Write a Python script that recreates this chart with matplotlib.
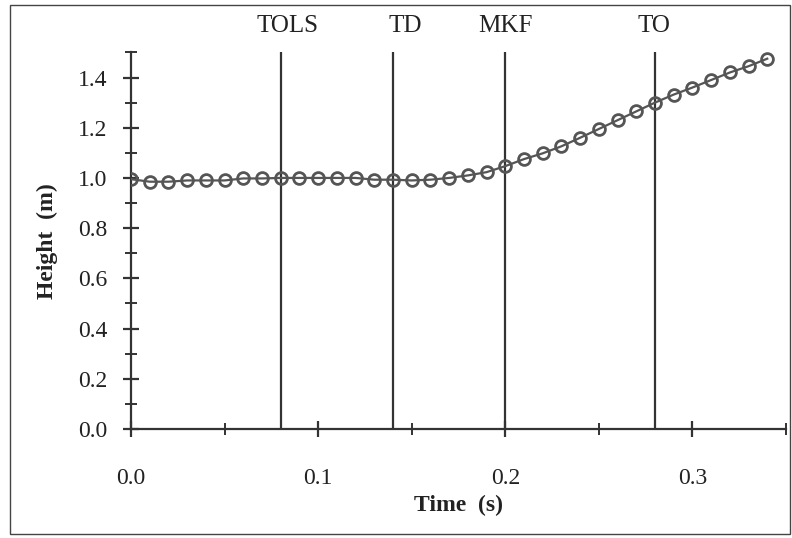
import numpy as np
import matplotlib.pyplot as plt
from matplotlib.patches import Rectangle
from matplotlib.ticker import MultipleLocator

plt.rcParams['font.family'] = ['Liberation Serif', 'DejaVu Serif']

time = [0.00, 0.01, 0.02, 0.03, 0.04, 0.05, 0.06, 0.07, 0.08, 0.09,
        0.10, 0.11, 0.12, 0.13, 0.14, 0.15, 0.16, 0.17, 0.18, 0.19,
        0.20, 0.21, 0.22, 0.23, 0.24, 0.25, 0.26, 0.27, 0.28, 0.29,
        0.30, 0.31, 0.32, 0.33, 0.34]
height = [0.995, 0.985, 0.985, 0.99, 0.99, 0.99, 0.998, 0.998, 1.0, 1.0,
          1.0, 1.0, 1.0, 0.993, 0.993, 0.99, 0.993, 1.0, 1.01, 1.023,
          1.047, 1.075, 1.098, 1.126, 1.16, 1.195, 1.23, 1.265, 1.30, 1.332,
          1.36, 1.39, 1.42, 1.445, 1.475]

events = ['TOLS', 'TD', 'MKF', 'TO']
event_times = [0.08, 0.14, 0.20, 0.28]
label_shift = [5, 9, 0, -1]  # points, labels in the scan sit a bit off their lines

fig = plt.figure(figsize=(7.92, 5.38), dpi=100)
ax = fig.add_axes([0.1654, 0.2026, 0.827, 0.70])

# outer frame round the whole figure
fig.patches.append(Rectangle((0.012, 0.008), 0.986, 0.982, transform=fig.transFigure,
                             fill=False, edgecolor='#444444', linewidth=1.0))

for name, t, dx in zip(events, event_times, label_shift):
    ax.axvline(t, ymin=0, ymax=1, color='#333333', linewidth=1.6, zorder=1)
    ax.annotate(name, (t, 1.0), xycoords=ax.get_xaxis_transform(),
                xytext=(dx, 19), textcoords='offset points',
                ha='center', va='center', fontsize=18, color='#222222')

ax.plot(time, height, color='#555555', linewidth=1.6, marker='o', markersize=8.5,
        markerfacecolor='none', markeredgecolor='#555555', markeredgewidth=2.0, zorder=3)

ax.set_xlim(0, 0.35)
ax.set_ylim(0, 1.5)
ax.xaxis.set_major_locator(MultipleLocator(0.1))
ax.xaxis.set_minor_locator(MultipleLocator(0.05))
ax.yaxis.set_major_locator(MultipleLocator(0.2))
ax.yaxis.set_minor_locator(MultipleLocator(0.1))
ax.xaxis.set_major_formatter(lambda v, p: f"{v:.1f}")
ax.yaxis.set_major_formatter(lambda v, p: f"{v:.1f}")

for s in ['top', 'right']:
    ax.spines[s].set_visible(False)
for s in ['left', 'bottom']:
    ax.spines[s].set_linewidth(1.6)
    ax.spines[s].set_color('#333333')

ax.tick_params(axis='both', which='major', direction='inout', length=12, width=1.6,
               color='#333333', labelsize=17, labelcolor='#222222')
ax.tick_params(axis='both', which='minor', direction='inout', length=8, width=1.4,
               color='#333333')
ax.tick_params(axis='x', which='major', pad=22)
ax.tick_params(axis='y', which='major', pad=11)

ax.set_xlabel('Time  (s)', fontsize=17, fontweight='bold', color='#222222', labelpad=4)
ax.set_ylabel('Height  (m)', fontsize=17, fontweight='bold', color='#222222', labelpad=14)

fig.savefig('out.png', dpi=100)
